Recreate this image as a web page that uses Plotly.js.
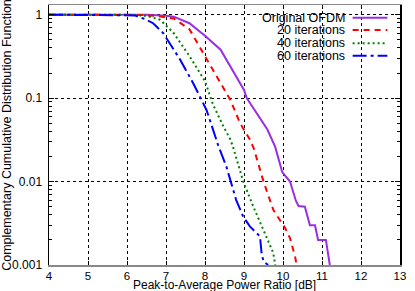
<!DOCTYPE html>
<html>
<head>
<meta charset="utf-8">
<script src="https://cdn.plot.ly/plotly-3.0.1.min.js"></script>
<style>html,body{margin:0;padding:0;background:#fff;}#chart{width:415px;height:291px;}</style>
</head>
<body>
<div id="chart"></div>
<script>
// ---- data ----
const seriesNames = ["Original OFDM", "20 iterations", "40 iterations", "60 iterations"];

const origX = [4, 5, 6, 6.5, 7.0, 7.2, 7.6, 8.0, 8.4, 8.65, 8.9, 9.0, 9.07, 9.3, 9.6, 9.8, 9.98, 10.18, 10.33, 10.40, 10.56, 10.69, 10.82, 10.90, 11.10, 11.2];
const origY = [1, 1, 1, 0.995, 0.97, 0.946, 0.79, 0.56, 0.38, 0.24, 0.15, 0.125, 0.1, 0.068, 0.042, 0.026, 0.013, 0.01, 0.0059, 0.0051, 0.005, 0.003, 0.003, 0.002, 0.002, 0.001];

const it20X = [4, 5, 6, 6.4, 6.8, 7.2, 7.6, 8.0, 8.3, 8.65, 8.9, 9.15, 9.25, 9.5, 9.75, 9.8, 10.05, 10.18, 10.31, 10.35];
const it20Y = [1, 1, 1, 0.99, 0.96, 0.9, 0.67, 0.32, 0.18, 0.095, 0.05, 0.032, 0.025, 0.01, 0.0046, 0.0042, 0.0028, 0.0021, 0.00126, 0.001];

const it40X = [4, 5, 6, 6.5, 6.85, 7.2, 7.6, 8.0, 8.2, 8.45, 8.65, 8.73, 8.98, 9.24, 9.5, 9.75, 9.8];
const it40Y = [1, 1, 1, 0.97, 0.87, 0.6, 0.32, 0.16, 0.085, 0.048, 0.032, 0.025, 0.01, 0.005, 0.0026, 0.0014, 0.001];

const it60X = [4, 5, 6, 6.2, 6.42, 6.67, 6.93, 7.36, 7.7, 8.04, 8.34, 8.55, 8.8, 8.98, 9.15, 9.28, 9.41, 9.45, 9.5, 9.62];
const it60Y = [1, 1, 1, 0.98, 0.9, 0.79, 0.6, 0.29, 0.15, 0.072, 0.027, 0.015, 0.006, 0.0038, 0.0029, 0.0025, 0.0022, 0.0014, 0.0011, 0.001];

const xTickVals = [4, 5, 6, 7, 8, 9, 10, 11, 12, 13];
const yTickVals = [1, 0.1, 0.01, 0.001];
const yTickText = ["1", "0.1", "0.01", "0.001"];
const xTitle = "Peak-to-Average Power Ratio [dB]";
const yTitle = "Complementary Cumulative Distribution Function";

// ---- styles ----
const colors = ["#9a2ee0", "#ff0000", "#008000", "#0000ff"];
const dashes = ["solid", "6px,5px", "2px,3px", "14px,4px,3px,4px"];
const FONT = "Liberation Sans, Arial, Helvetica, sans-serif";

const xs = [origX, it20X, it40X, it60X];
const ys = [origY, it20Y, it40Y, it60Y];

const traces = xs.map((x, i) => ({
  type: "scatter", mode: "lines", x: x, y: ys[i], name: seriesNames[i],
  line: {color: colors[i], width: 2, dash: dashes[i]}, showlegend: false
}));

// minor ticks on the log axis
const minorVals = [];
[0.001, 0.01, 0.1].forEach(d => { for (let k = 2; k <= 9; k++) minorVals.push(d * k); });

// manual legend (text right-aligned, sample line on the right)
const legY = [0.951, 0.904, 0.853, 0.805];
const annotations = seriesNames.map((n, i) => ({
  xref: "paper", yref: "paper", x: 0.848, y: legY[i], xanchor: "right", yanchor: "middle",
  text: n, showarrow: false, font: {family: FONT, size: 12.5, color: "#000"}
}));
// x-axis title placed tight under the tick labels, as in the reference
annotations.push({
  xref: "paper", yref: "paper", x: 0.5, y: -0.1, xanchor: "center", yanchor: "bottom",
  text: xTitle, showarrow: false, font: {family: FONT, size: 12, color: "#000"}, yshift: -2, borderpad: 0
});
const shapes = seriesNames.map((n, i) => ({
  type: "line", xref: "paper", yref: "paper", x0: 0.865, x1: 0.964, y0: legY[i], y1: legY[i],
  line: {color: colors[i], width: 2, dash: dashes[i]}
}));

const layout = {
  width: 415, height: 291,
  margin: {l: 49, r: 14.5, t: 5, b: 26, pad: 0},
  paper_bgcolor: "#fff", plot_bgcolor: "#fff",
  font: {family: FONT, size: 12, color: "#000"},
  showlegend: false,
  xaxis: {
    range: [4, 13], tickmode: "array", tickvals: xTickVals,
    showline: true, linecolor: "#888", linewidth: 1.5, mirror: "ticks",
    ticks: "inside", ticklen: 4, tickcolor: "#000",
    showgrid: true, gridcolor: "#000", gridwidth: 1, griddash: "3px,3px",
    zeroline: false, ticklabelstandoff: 0,
    tickfont: {family: FONT, size: 11.5, color: "#000"}
  },
  yaxis: {
    type: "log", range: [-3, 0.116], tickmode: "array", tickvals: yTickVals, ticktext: yTickText,
    showline: true, linecolor: "#000", linewidth: 1.5, mirror: "ticks",
    ticks: "inside", ticklen: 5, tickcolor: "#000",
    showgrid: true, gridcolor: "#000", gridwidth: 1, griddash: "3px,3px",
    zeroline: false, ticklabelstandoff: 3,
    minor: {tickmode: "array", tickvals: minorVals, ticks: "inside", ticklen: 3, tickcolor: "#000", showgrid: false},
    tickfont: {family: FONT, size: 12, color: "#000"},
    title: {text: yTitle, font: {family: FONT, size: 12.5, color: "#000"}, standoff: 2}
  },
  annotations: annotations,
  shapes: shapes
};

Plotly.newPlot("chart", traces, layout, {staticPlot: true, displayModeBar: false});
</script>
</body>
</html>
